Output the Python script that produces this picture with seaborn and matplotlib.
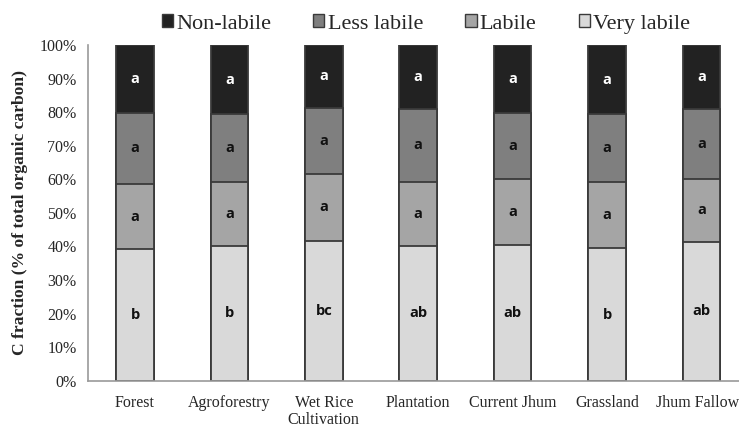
import matplotlib
matplotlib.use("Agg")
import matplotlib.pyplot as plt
from matplotlib.patches import Patch
from matplotlib.ticker import FixedLocator, PercentFormatter
from matplotlib.transforms import ScaledTranslation
import numpy as np
import pandas as pd
import seaborn as sns

# Land-use systems
categories = ["Forest", "Agroforestry", "Wet Rice\nCultivation", "Plantation",
              "Current Jhum", "Grassland", "Jhum Fallow"]

# Carbon fractions, % of total organic carbon
very_labile = [39.1, 40.1, 41.7, 40.1, 40.3, 39.4, 41.4]
labile      = [19.5, 19.2, 19.9, 19.2, 19.9, 19.9, 18.8]
less_labile = [21.2, 20.1, 19.7, 21.7, 19.6, 20.1, 20.7]
non_labile  = [20.2, 20.6, 18.7, 19.0, 20.2, 20.6, 19.1]

# Significance letters per fraction
letters_very_labile = ["b", "b", "bc", "ab", "ab", "b", "ab"]
letters_labile      = ["a"] * 7
letters_less_labile = ["a"] * 7
letters_non_labile  = ["a"] * 7

fractions = ["Non-labile", "Less labile", "Labile", "Very labile"]
colors = {"Non-labile": "#222222", "Less labile": "#7f7f7f",
          "Labile": "#a5a5a5", "Very labile": "#d9d9d9"}

sns.set_style("white")

fig = plt.figure(figsize=(7.39, 4.29), dpi=100)
# seven category slots of ~94 px each; the last one runs past the right edge
ax = fig.add_axes([87.8 / 739, 48.3 / 429, 660.8 / 739, 335.7 / 429])

vl = np.array(very_labile)
la = np.array(labile)
ll = np.array(less_labile)
nl = np.array(non_labile)
tops = {
    "Very labile": vl,
    "Labile": vl + la,
    "Less labile": vl + la + ll,
    "Non-labile": vl + la + ll + nl,
}

# Stacked bars drawn as cumulative heights, tallest first
for name in ["Non-labile", "Less labile", "Labile", "Very labile"]:
    df = pd.DataFrame({"category": categories, "value": tops[name]})
    sns.barplot(data=df, x="category", y="value", order=categories,
                color=colors[name], saturation=1, width=0.4,
                edgecolor="#3a3a3a", linewidth=1.3, errorbar=None, ax=ax)

# Letters centred in each segment
lower = {"Very labile": np.zeros(7), "Labile": vl, "Less labile": vl + la,
         "Non-labile": vl + la + ll}
letter_sets = {"Very labile": letters_very_labile, "Labile": letters_labile,
               "Less labile": letters_less_labile, "Non-labile": letters_non_labile}
for name in fractions:
    mids = (lower[name] + tops[name]) / 2
    txt_color = "white" if name == "Non-labile" else "#111111"
    for i, (m, lab) in enumerate(zip(mids, letter_sets[name])):
        ax.text(i, m, lab, ha="center", va="center", fontsize=10.5,
                fontweight="bold", color=txt_color, family="Open Sans")

ax.set_xlim(-0.5, 6.5)
ax.set_ylim(0, 100)
ax.yaxis.set_major_locator(FixedLocator(np.arange(0, 101, 10)))
ax.yaxis.set_major_formatter(PercentFormatter(decimals=0))

ax.set_xticks(range(len(categories)))
ax.set_xticklabels(categories, family="Liberation Serif", fontsize=11.5,
                   linespacing=1.1)
ax.xaxis.set_minor_locator(FixedLocator(np.arange(-0.5, 7, 1)))
ax.tick_params(axis="x", which="major", length=0, pad=10)
ax.tick_params(axis="x", which="minor", length=5, color="#9a9a9a", width=1)
ax.tick_params(axis="y", which="major", length=5, color="#9a9a9a", width=1,
               labelsize=11.5, pad=3)
for lbl in ax.get_yticklabels():
    lbl.set_family("Liberation Serif")

# nudge the last category label so it stays inside the figure
last = ax.get_xticklabels()[-1]
last.set_transform(last.get_transform() +
                   ScaledTranslation(-4 / 100, 0, fig.dpi_scale_trans))

ax.set_xlabel("")
ax.set_ylabel("C fraction (% of total organic carbon)", family="Liberation Serif",
              fontweight="bold", fontsize=12.6, labelpad=8)

for side in ["top", "right"]:
    ax.spines[side].set_visible(False)
for side in ["left", "bottom"]:
    ax.spines[side].set_color("#9a9a9a")
    ax.spines[side].set_linewidth(1.2)

handles = [Patch(facecolor=colors[n], edgecolor="#3a3a3a", linewidth=1.0, label=n)
           for n in fractions]
fig.legend(handles=handles, loc="center", bbox_to_anchor=(426 / 739, 1 - 24 / 429),
           ncol=4, frameon=False, prop={"family": "Liberation Serif", "size": 16},
           handlelength=0.5, handleheight=0.5, handletextpad=0.15,
           columnspacing=1.9, borderaxespad=0)

fig.savefig("out.png", dpi=100)
